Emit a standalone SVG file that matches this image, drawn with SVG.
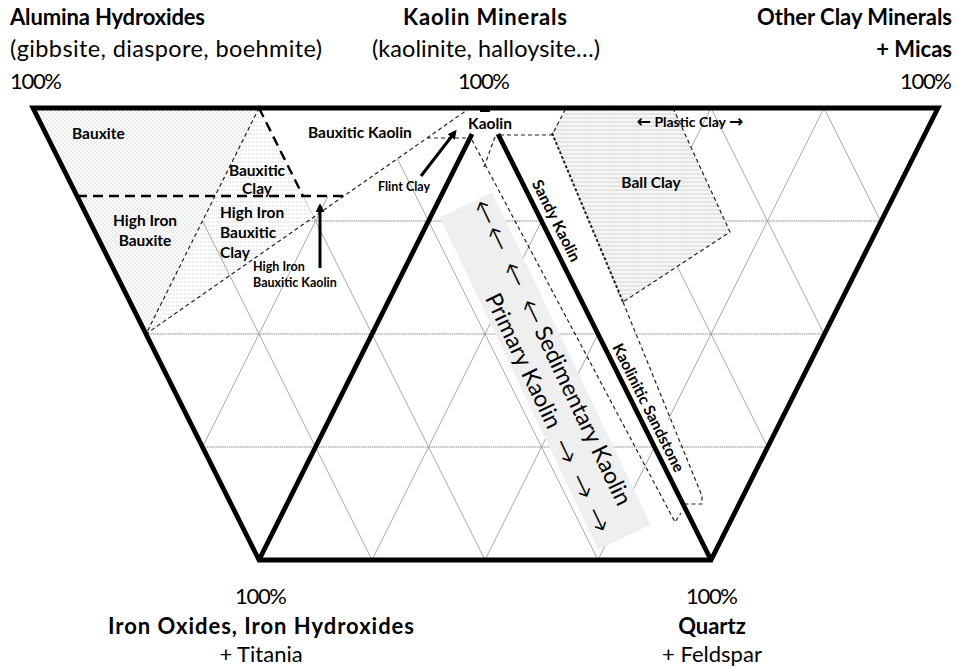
<svg xmlns="http://www.w3.org/2000/svg" width="960" height="667" viewBox="0 0 960 667">
<style>
text{font-family:Lato,"Liberation Sans","DejaVu Sans",sans-serif;fill:#000}
.t{font-size:22px}
.r{font-size:23.5px}
.b{font-weight:bold}
.lb{font-size:15.5px;font-weight:bold}
.sm{font-size:12.5px;font-weight:bold}
.band{font-size:23px}
.ar{font-family:"DejaVu Sans",sans-serif;font-size:31px;font-weight:200}
.ap{font-family:"DejaVu Sans",sans-serif;font-size:17px}
.grid line{stroke:#9a9a9a;stroke-width:0.9}
.grid line.h{stroke:#8a8a8a;stroke-width:1;stroke-dasharray:1.5 0.7}
.thick{fill:none;stroke:#000;stroke-width:4.8;stroke-linejoin:miter}
.dk{fill:none;stroke:#000;stroke-width:2.4;stroke-dasharray:10 6}
.dt{fill:none;stroke:#222;stroke-width:1.2;stroke-dasharray:4 3}
.dm{fill:none;stroke:#222;stroke-width:2;stroke-dasharray:3 2}
.arr{stroke:#000;stroke-width:3;fill:none;marker-end:url(#ah)}
</style>
<defs>
<pattern id="dots" width="4" height="4" patternUnits="userSpaceOnUse">
<rect width="4" height="4" fill="#fff"/>
<circle cx="1" cy="1" r="0.75" fill="#cdcdcd"/>
<circle cx="3" cy="3" r="0.75" fill="#cdcdcd"/>
</pattern>
<pattern id="hl" width="4" height="4" patternUnits="userSpaceOnUse">
<rect width="4" height="4" fill="#fff"/>
<path d="M0 2H4" stroke="#d2d2d2" stroke-width="1" stroke-dasharray="1 1"/>
</pattern>
<pattern id="zig" width="6" height="4" patternUnits="userSpaceOnUse">
<rect width="6" height="4" fill="#f6f6f6"/>
<path d="M0 3L1.5 1L3 3L4.5 1L6 3" fill="none" stroke="#d2d2d2" stroke-width="0.8"/>
</pattern>
<marker id="ah" viewBox="0 0 10 10" refX="7" refY="5" markerWidth="3" markerHeight="3" orient="auto">
<path d="M0 0L10 5L0 10z" fill="#000"/>
</marker>
</defs>
<rect width="960" height="667" fill="#fff"/>

<g id="grid" class="grid">
<line class="h" x1="89.5" y1="221" x2="880.5" y2="221"/>
<line class="h" x1="146" y1="334" x2="824" y2="334"/>
<line class="h" x1="202.5" y1="447" x2="767.5" y2="447"/>
<line x1="146" y1="108" x2="372" y2="560"/>
<line x1="259" y1="108" x2="485" y2="560"/>
<line x1="372" y1="108" x2="598" y2="560"/>
<line x1="598" y1="108" x2="767.5" y2="447"/>
<line x1="711" y1="108" x2="824" y2="334"/>
<line x1="824" y1="108" x2="880.5" y2="221"/>
<line x1="824" y1="108" x2="598" y2="560"/>
<line x1="711" y1="108" x2="485" y2="560"/>
<line x1="598" y1="108" x2="372" y2="560"/>
<line x1="372" y1="108" x2="202.5" y2="447"/>
<line x1="146" y1="108" x2="89.5" y2="221"/>
</g>

<g id="regions">
<polygon id="bauxite" points="33,108 259,108 146,334" fill="url(#dots)"/>
<polygon id="bauxitic-clay" points="259,108 303,196 215,196" fill="url(#hl)"/>
<polygon id="hi-bauxitic-clay" points="215,196 303,196 313.6,217 146,334" fill="url(#hl)"/>
<polygon id="bauxitic-kaolin" points="259,108 470,108 344,196 303,196" fill="#fff"/>
<polygon id="sandy-strip" points="498.5,135 552,133 702,504 683,504" fill="#fff"/>
<polygon id="ball-clay" points="566,108 673,108 730,232 623,302 552,133" fill="url(#zig)"/>
<line x1="202.5" y1="221" x2="230" y2="276" stroke="#9a9a9a" stroke-width="0.9"/>
<g id="band" transform="translate(466,205) rotate(64.5)">
<rect x="0" y="-29" width="368" height="58" fill="#efefef"/>
</g>
</g>

<g id="connectors">
<path class="dk" d="M77 196H344M259 108L303 196"/>
<path class="dt" d="M259 108L146 334L470 108M427 138H470"/>
<path class="dt" d="M472 140L675 522L681 513M495 137L484 167"/>
<path class="dt" d="M500 135H552L566 108M673 108L730 232L623 302M623 302L702 496L702 504H685"/>
<path class="dm" d="M552 133L623 302"/>
<path class="thick" d="M33 108H938L711 560H259Z"/>
<path class="thick" d="M259 560L472 134M498 134L711 560"/>
<rect x="480" y="108" width="10" height="4" fill="#000"/>
<line class="arr" x1="320" y1="268" x2="320" y2="206"/>
<line class="arr" x1="421" y1="176" x2="455" y2="132"/>
</g>

<g id="labels">
<text class="t b" x="10" y="25" textLength="195">Alumina Hydroxides</text>
<text class="r" x="10" y="57" textLength="312">(gibbsite, diaspore, boehmite)</text>
<text class="t" x="10" y="89" textLength="52">100%</text>
<text class="t b" x="403" y="25" textLength="164">Kaolin Minerals</text>
<text class="r" x="372" y="57" textLength="228">(kaolinite, halloysite…)</text>
<text class="t" x="458" y="89" textLength="52">100%</text>
<text class="t b" x="757" y="25" textLength="195">Other Clay Minerals</text>
<text class="t b" x="952" y="57" text-anchor="end">+ Micas</text>
<text class="t" x="900" y="89" textLength="52">100%</text>
<text class="t" x="235" y="604" textLength="52">100%</text>
<text class="t b" x="108" y="634" textLength="306">Iron Oxides, Iron Hydroxides</text>
<text class="t" x="261" y="662" text-anchor="middle">+ Titania</text>
<text class="t" x="686" y="604" textLength="52">100%</text>
<text class="t b" x="712" y="634" text-anchor="middle">Quartz</text>
<text class="t" x="712" y="662" text-anchor="middle">+ Feldspar</text>
</g>

<g id="field-labels">
<text class="lb" x="72" y="139">Bauxite</text>
<text class="lb" text-anchor="middle"><tspan x="145" y="226">High Iron</tspan><tspan x="145" y="246">Bauxite</tspan></text>
<text class="lb" text-anchor="middle"><tspan x="257" y="176">Bauxitic</tspan><tspan x="257" y="194">Clay</tspan></text>
<text class="lb"><tspan x="220" y="218">High Iron</tspan><tspan x="220" y="238">Bauxitic</tspan><tspan x="220" y="258">Clay</tspan></text>
<text class="lb" x="308" y="138">Bauxitic Kaolin</text>
<text class="sm"><tspan x="253" y="271">High Iron</tspan><tspan x="253" y="287">Bauxitic Kaolin</tspan></text>
<text class="sm" x="378" y="191">Flint Clay</text>
<text class="lb" x="490" y="129" text-anchor="middle">Kaolin</text>
<text class="lb" x="690" y="127" text-anchor="middle" style="font-size:14px"><tspan class="ap">←</tspan> Plastic Clay <tspan class="ap">→</tspan></text>
<text class="lb" x="651" y="188" text-anchor="middle">Ball Clay</text>
<text class="lb" transform="translate(556,221) rotate(63.4)" text-anchor="middle" dy="5">Sandy Kaolin</text>
<text class="lb" transform="translate(648,408) rotate(63.4)" text-anchor="middle" dy="5">Kaolinitic Sandstone</text>
<g transform="translate(466,205) rotate(64.5)">
<text class="band"><tspan class="ar" x="2" y="-4">←</tspan><tspan class="ar" x="31" y="-4">←</tspan><tspan class="ar" x="71" y="-4">←</tspan><tspan class="ar" x="112" y="-4">←</tspan><tspan x="143" y="-7">Sedimentary Kaolin</tspan></text>
<text class="band"><tspan x="92" y="23">Primary Kaolin</tspan><tspan class="ar" x="252" y="26">→</tspan><tspan class="ar" x="291" y="26">→</tspan><tspan class="ar" x="328" y="26">→</tspan></text>
</g>
</g>
</svg>
